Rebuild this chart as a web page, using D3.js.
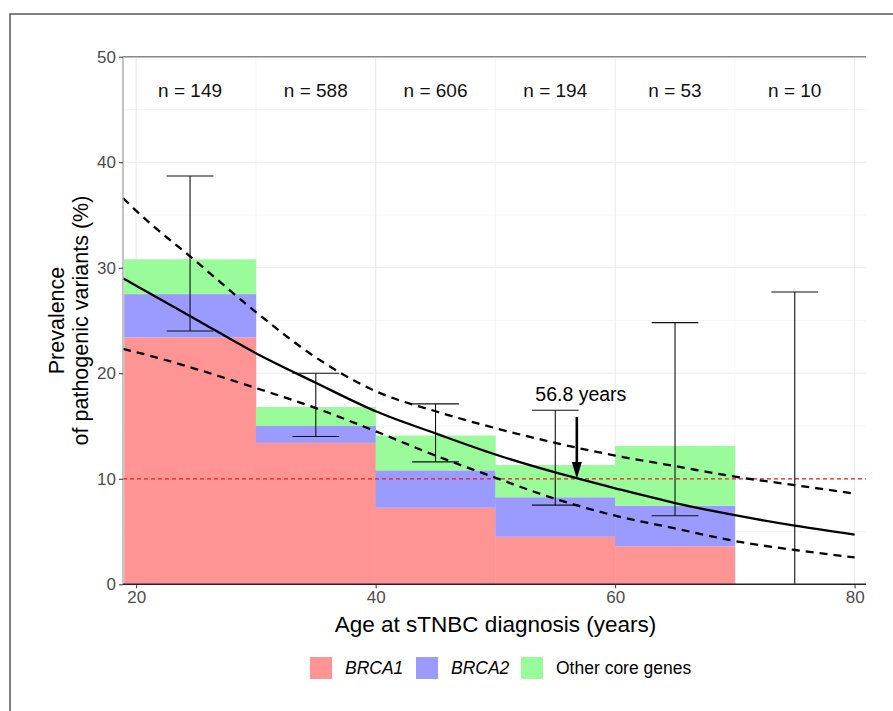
<!DOCTYPE html>
<html>
<head>
<meta charset="utf-8">
<script src="https://cdn.jsdelivr.net/npm/d3@7"></script>
<style>
body { margin: 0; background: #fff; }
svg { font-family: "Liberation Sans", Arial, sans-serif; }
</style>
</head>
<body>
<script>
// age bins and stacked prevalence (%)
const binStart = [19, 30, 40, 50, 60, 70];
const binEnd = [30, 40, 50, 60, 70, 80];
const brca1 = [23.4, 13.4, 7.25, 4.5, 3.6, 0];
const brca2 = [4.1, 1.6, 3.55, 3.75, 3.85, 0];
const otherGenes = [3.3, 1.8, 3.3, 3.05, 5.65, 0];
const nCounts = [149, 588, 606, 194, 53, 10];

// confidence intervals of the bins
const ciAge = [24.5, 35, 45, 55, 65, 75];
const ciLow = [24.0, 14.0, 11.6, 7.5, 6.5, 0];
const ciHigh = [38.7, 20.0, 17.1, 16.5, 24.8, 27.7];

// fitted curve with its bands
const fitAge = [18.9, 20, 25, 30, 35, 40, 45, 50, 55, 60, 65, 70, 75, 80];
const fitMid = [29.0, 28.3, 25.1, 21.9, 19.1, 16.4, 14.3, 12.3, 10.6, 9.1, 7.7, 6.55, 5.55, 4.7];
const fitUp = [36.6, 35.4, 30.6, 25.8, 21.5, 18.3, 16.4, 14.8, 13.4, 12.2, 11.2, 10.2, 9.4, 8.6];
const fitLow = [22.3, 22.0, 20.4, 18.6, 16.7, 14.5, 12.2, 10.1, 8.1, 6.5, 5.3, 4.1, 3.25, 2.55];

const xTicks = [20, 40, 60, 80];
const yTicks = [0, 10, 20, 30, 40, 50];
const threshold = 10;
const cutoffAge = 56.8;

const keys = ["BRCA1", "BRCA2", "Other core genes"];
const colors = ["#ff9494", "#9a9aff", "#99fb99"];

const svg = d3.select("body").append("svg")
	.attr("width", 893)
	.attr("height", 711);

//outer frame
svg.append("rect")
	.attr("x", 10).attr("y", 14)
	.attr("width", 900).attr("height", 720)
	.attr("fill", "none")
	.attr("stroke", "#555")
	.attr("stroke-width", 1.5);

const pLeft = 123, pRight = 866, pTop = 56.7, pBottom = 584.3;

var x = d3.scaleLinear().domain([18.9, 80.95]).range([pLeft, pRight]);
var y = d3.scaleLinear().domain([0, 50]).range([pBottom, pTop]);

//grid
const grid = svg.append("g");
grid.selectAll(".gy")
	.data(d3.range(5, 50, 5))
	.enter().append("line")
	.attr("x1", pLeft).attr("x2", pRight)
	.attr("y1", d => y(d)).attr("y2", d => y(d))
	.attr("stroke", d => d % 10 === 0 ? "#ebebeb" : "#f3f3f3")
	.attr("stroke-width", d => d % 10 === 0 ? 1.1 : 0.8);
grid.selectAll(".gx")
	.data([20, 30, 40, 50, 60, 70, 80])
	.enter().append("line")
	.attr("y1", pTop).attr("y2", pBottom)
	.attr("x1", d => x(d)).attr("x2", d => x(d))
	.attr("stroke", d => d % 20 === 0 ? "#ebebeb" : "#f3f3f3")
	.attr("stroke-width", d => d % 20 === 0 ? 1.1 : 0.8);

//stacked bars
const rows = binStart.map((s, i) => ({
	start: s, end: binEnd[i],
	"BRCA1": brca1[i], "BRCA2": brca2[i], "Other core genes": otherGenes[i]
}));
const stacked = d3.stack().keys(keys)(rows);

svg.append("g")
	.selectAll("g")
	.data(stacked)
	.enter().append("g")
	.attr("fill", (d, i) => colors[i])
	.selectAll("rect")
	.data(d => d)
	.enter().append("rect")
	.attr("x", d => x(d.data.start))
	.attr("width", d => x(d.data.end) - x(d.data.start) + 0.3)
	.attr("y", d => y(d[1]))
	.attr("height", d => y(d[0]) - y(d[1]));

//threshold line
svg.append("line")
	.attr("x1", pLeft).attr("x2", pRight)
	.attr("y1", y(threshold)).attr("y2", y(threshold))
	.attr("stroke", "#e8201a")
	.attr("stroke-width", 1.3)
	.attr("stroke-dasharray", "4,3");

//error bars
const capHalf = 1.95;
const eb = svg.append("g").attr("stroke", "#111").attr("stroke-width", 1.1);
ciAge.forEach((a, i) => {
	eb.append("line")
		.attr("x1", x(a)).attr("x2", x(a))
		.attr("y1", y(ciLow[i])).attr("y2", y(ciHigh[i]));
	eb.append("line")
		.attr("x1", x(a - capHalf)).attr("x2", x(a + capHalf))
		.attr("y1", y(ciHigh[i])).attr("y2", y(ciHigh[i]));
	if (ciLow[i] > 0) {
		eb.append("line")
			.attr("x1", x(a - capHalf)).attr("x2", x(a + capHalf))
			.attr("y1", y(ciLow[i])).attr("y2", y(ciLow[i]));
	}
});

//fitted curves
const line = d3.line().curve(d3.curveMonotoneX)
	.x(d => x(d[0])).y(d => y(d[1]));

svg.append("path")
	.datum(fitAge.map((a, i) => [a, fitUp[i]]))
	.attr("d", line)
	.attr("fill", "none").attr("stroke", "#000")
	.attr("stroke-width", 2.3).attr("stroke-dasharray", "8,6");
svg.append("path")
	.datum(fitAge.map((a, i) => [a, fitLow[i]]))
	.attr("d", line)
	.attr("fill", "none").attr("stroke", "#000")
	.attr("stroke-width", 2.3).attr("stroke-dasharray", "8,6");
svg.append("path")
	.datum(fitAge.map((a, i) => [a, fitMid[i]]))
	.attr("d", line)
	.attr("fill", "none").attr("stroke", "#000")
	.attr("stroke-width", 2.3);

//arrow + label
const ax = x(cutoffAge);
svg.append("line")
	.attr("x1", ax).attr("x2", ax)
	.attr("y1", y(15.85)).attr("y2", y(11.5))
	.attr("stroke", "#000").attr("stroke-width", 2.6);
svg.append("path")
	.attr("d", "M" + (ax - 5) + "," + y(11.6) + "L" + (ax + 5) + "," + y(11.6) + "L" + ax + "," + y(threshold) + "Z")
	.attr("fill", "#000");
svg.append("text")
	.attr("x", ax + 4).attr("y", y(17.35))
	.attr("text-anchor", "middle")
	.attr("font-size", 19.5)
	.text(cutoffAge + " years");

//n labels
svg.append("g")
	.selectAll("text")
	.data(nCounts)
	.enter().append("text")
	.attr("x", (d, i) => x(ciAge[i]))
	.attr("y", y(46.15))
	.attr("text-anchor", "middle")
	.attr("font-size", 19)
	.attr("fill", "#111")
	.text(d => "n = " + d);

//panel border lines
svg.append("line")
	.attr("x1", pLeft).attr("x2", pRight)
	.attr("y1", pTop).attr("y2", pTop)
	.attr("stroke", "#888").attr("stroke-width", 1.6);
svg.append("line")
	.attr("x1", pLeft).attr("x2", pLeft)
	.attr("y1", pTop).attr("y2", pBottom)
	.attr("stroke", "#aaa").attr("stroke-width", 1.4);

//axes
var xAxis = d3.axisBottom(x).tickValues(xTicks).tickSize(4).tickPadding(3);
var yAxis = d3.axisLeft(y).tickValues(yTicks).tickSize(4).tickPadding(3);

const gx = svg.append("g")
	.attr("transform", "translate(0," + pBottom + ")")
	.call(xAxis);
gx.select(".domain").attr("stroke", "#222").attr("stroke-width", 1.6).attr("d", "M" + pLeft + ",0H" + pRight);
gx.selectAll(".tick line").attr("stroke", "#333");
gx.selectAll("text").attr("font-size", 17).attr("fill", "#4d4d4d").attr("font-family", "Liberation Sans, Arial, sans-serif");

const gy = svg.append("g")
	.attr("transform", "translate(" + pLeft + ",0)")
	.call(yAxis);
gy.select(".domain").remove();
gy.selectAll(".tick line").attr("stroke", "#333");
gy.selectAll("text").attr("font-size", 17).attr("fill", "#4d4d4d").attr("font-family", "Liberation Sans, Arial, sans-serif");

//axis titles
svg.append("text")
	.attr("x", (pLeft + pRight) / 2 + 1).attr("y", 632)
	.attr("text-anchor", "middle")
	.attr("font-size", 22.5)
	.text("Age at sTNBC diagnosis (years)");

const yt = svg.append("text")
	.attr("transform", "translate(64," + ((pTop + pBottom) / 2) + ") rotate(-90)")
	.attr("text-anchor", "middle")
	.attr("font-size", 21.5);
yt.append("tspan").attr("x", 0).attr("dy", 0).text("Prevalence");
yt.append("tspan").attr("x", 0).attr("dy", 24).text("of pathogenic variants (%)");

//legend
const legendX = [310, 416, 521];
const lg = svg.append("g")
	.selectAll("g")
	.data(keys)
	.enter().append("g")
	.attr("transform", (d, i) => "translate(" + legendX[i] + ",657)");
lg.append("rect")
	.attr("width", 22).attr("height", 22)
	.attr("fill", (d, i) => colors[i]);
lg.append("text")
	.attr("x", 35).attr("y", 11)
	.attr("dy", "0.36em")
	.attr("font-size", 17.5)
	.attr("font-style", (d, i) => i < 2 ? "italic" : "normal")
	.text(d => d);
</script>
</body>
</html>
